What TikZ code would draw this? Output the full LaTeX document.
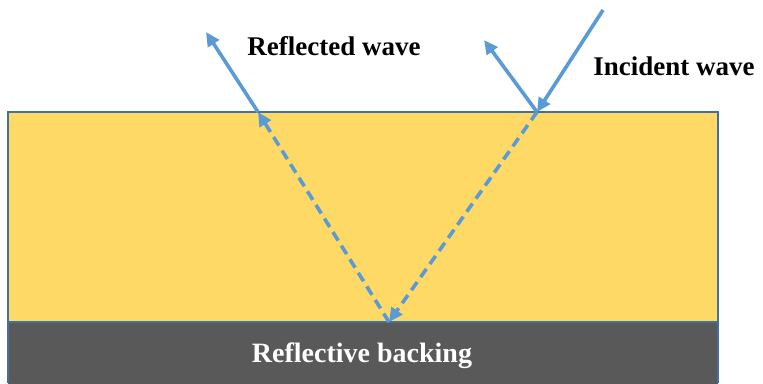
\documentclass[tikz,border=0pt]{standalone}
\usepackage{fontspec}
\setmainfont{Liberation Serif}
\usetikzlibrary{arrows.meta}
\definecolor{ray}{HTML}{5B9BD5}
\definecolor{edge}{HTML}{41719C}
\definecolor{layer}{HTML}{FFD966}
\definecolor{backing}{HTML}{595959}
\tikzset{
  wave/.style={draw=ray, line width=3.6pt, -{Triangle[length=14pt,width=13pt]}},
  inner/.style={wave, dash pattern=on 10pt off 6pt},
  lbl/.style={font=\fontsize{27}{32}\selectfont\bfseries, inner sep=0pt}
}
\begin{document}
\begin{tikzpicture}[x=1pt,y=-1pt]
\useasboundingbox (0,0) rectangle (763,383);
\fill[backing] (8,322) rectangle (718,390);
\draw[edge, line width=2.5pt, fill=layer] (8,112) rectangle (718,322);
\draw[edge, line width=2.5pt] (8,322) -- (8,383) (718,322) -- (718,383);
\coordinate (src) at (603,10);
\coordinate (hitA) at (537,112);
\coordinate (bot) at (389,322);
\coordinate (hitB) at (258,112);
\coordinate (outA) at (484,40);
\coordinate (outB) at (206,32);
\draw[wave] (src) -- (hitA);
\draw[wave] (hitA) -- (outA);
\draw[inner] (hitA) -- (bot);
\draw[inner] (bot) -- (hitB);
\draw[wave] (hitB) -- (outB);
\node[lbl] (rw) at (334,46) {Reflected wave};
\node[lbl] (iw) at (674,66) {Incident wave};
\node[lbl, text=white, font=\fontsize{28}{32}\selectfont\bfseries] (rb) at (362,356) {Reflective backing};
\end{tikzpicture}
\end{document}
